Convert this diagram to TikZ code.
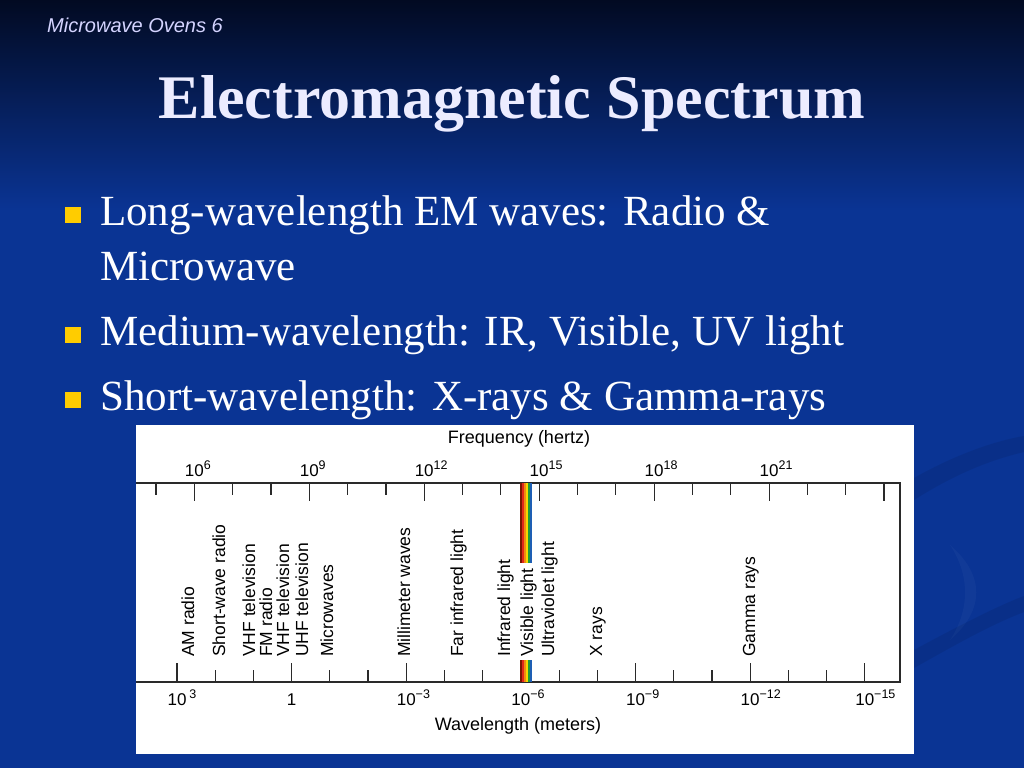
\documentclass[tikz,border=0pt]{standalone}
\usepackage{fontspec}
\setmainfont{Liberation Serif}
\newfontfamily\chartsf{Liberation Sans}
\newcommand\expo[1]{\raisebox{7pt}{\fontsize{12.5}{12.5}\selectfont #1}}
\definecolor{bgtop}{HTML}{020A22}
\definecolor{bgblue}{HTML}{0A3494}
\definecolor{titlecol}{HTML}{ECECFF}
\definecolor{bulletcol}{HTML}{FFCC00}
\definecolor{axiscol}{HTML}{2A2A2A}
\definecolor{rbA}{HTML}{7A1500}
\definecolor{rbB}{HTML}{E0281A}
\definecolor{rbC}{HTML}{F28A10}
\definecolor{rbD}{HTML}{F5D800}
\definecolor{rbE}{HTML}{1E9A3C}
\definecolor{rbF}{HTML}{1E5FB4}
\begin{document}
\begin{tikzpicture}[
        x=1pt, y=-1pt,
        head/.style={anchor=base west, inner sep=0, text=titlecol!90!blue, font=\chartsf\itshape\fontsize{20}{20}\selectfont},
        heading/.style={anchor=base, inner sep=0, text=titlecol, font=\bfseries\fontsize{62}{62}\selectfont},
        item/.style={anchor=base west, inner sep=0, text=white, font=\fontsize{43}{43}\selectfont},
        bullet/.style={fill=bulletcol, minimum size=16pt, inner sep=0},
        axis/.style={draw=axiscol, line width=1.4pt},
        tick/.style={draw=axiscol, line width=1.2pt},
        ticklab/.style={anchor=base, inner sep=0, font=\chartsf\fontsize{17}{17}\selectfont},
        axlab/.style={anchor=base, inner sep=0, font=\chartsf\fontsize{18}{18}\selectfont},
        band/.style={anchor=base west, rotate=90, inner sep=0, font=\chartsf\fontsize{17.5}{17.5}\selectfont}
    ]
        % slide background
        \useasboundingbox (0,0) rectangle (1024,768);
        \fill[bgblue] (0,0) rectangle (1024,768);
        \shade[top color=bgtop, bottom color=bgblue] (0,0) rectangle (1024,210);
        \fill[black, opacity=0.08] (914,478) .. controls (960,452) and (1000,440) .. (1024,436) -- (1024,452) .. controls (990,460) and (955,474) .. (914,500) -- cycle;
        \fill[white, opacity=0.03] (950,545) .. controls (985,575) and (985,610) .. (950,640) .. controls (970,610) and (970,575) .. cycle;
        \fill[black, opacity=0.08] (914,650) .. controls (960,625) and (1000,605) .. (1024,596) -- (1024,612) .. controls (990,625) and (955,645) .. (914,668) -- cycle;

        % header and title
        \node[head] (hdr) at (47,33) {Microwave Ovens 6};
        \node[heading] (ttl) at (512,118) {Electromagnetic Spectrum};

        % bullets
        \node[bullet] (b1) at (73,215) {};
        \node[bullet] (b2) at (73,335) {};
        \node[bullet] (b3) at (73,400) {};
        \node[item] (t1) at (100,225) {Long-wavelength EM waves: Radio \&};
        \node[item] (t1b) at (100,280) {Microwave};
        \node[item] (t2) at (100,345) {Medium-wavelength: IR, Visible, UV light};
        \node[item] (t3) at (100,410) {Short-wavelength: X-rays \& Gamma-rays};

        % chart panel and frame
        \fill[white] (136,425) rectangle (914,754);
        \draw[axis] (136,483) -- (900,483) -- (900,682) -- (136,682);

        % frequency ticks
        \foreach \n in {5,...,24}
            \draw[tick] ({194.3+(\n-6)*38.32},483) -- ++(0,12);
        \foreach \n in {6,9,...,24}
            \draw[tick] ({194.3+(\n-6)*38.32},483) -- ++(0,18);
        \foreach \n in {6,9,...,21}
            \node[ticklab] (f\n) at ({194.3+(\n-6)*38.32},476) {\llap{1}\rlap{0\expo{\n}}};
        \node[axlab] (freq) at (519,443) {Frequency (hertz)};

        % wavelength ticks
        \foreach \k in {0,...,18}
            \draw[tick] ({177+\k*38.21},682) -- ++(0,-12);
        \foreach \k in {0,3,...,18}
            \draw[tick] ({177+\k*38.21},682) -- ++(0,-19);
        \node[ticklab] (wp3) at (177,705) {\llap{1}\rlap{0\,\expo{3}}};
        \node[ticklab] (w0) at (291.6,705) {1};
        \foreach \k/\e in {6/3,9/6,12/9,15/12,18/15}
            \node[ticklab] (wm\e) at ({177+\k*38.21},705) {\llap{1}\rlap{0\expo{−\e}}};
        \node[axlab] (wave) at (518,730) {Wavelength (meters)};

        % visible band
        \foreach \c [count=\i from 0] in {rbA,rbB,rbC,rbD,rbE,rbF} {
            \fill[\c] ({520+2*\i},483) rectangle ++(2,80);
            \fill[\c] ({520+2*\i},660) rectangle ++(2,22);
        }

        % regions
        \foreach \x/\txt in {188/AM radio, 219/Short-wave radio, 249/VHF television, 266/FM radio,
                283/VHF television, 302/UHF television, 327/Microwaves, 404/Millimeter waves,
                457/Far infrared light, 504/Infrared light, 527/Visible light,
                548/Ultraviolet light, 596/X rays, 749/Gamma rays}
            \node[band] (r\x) at (\x+6,657) {\txt};
    \end{tikzpicture}
\end{document}
